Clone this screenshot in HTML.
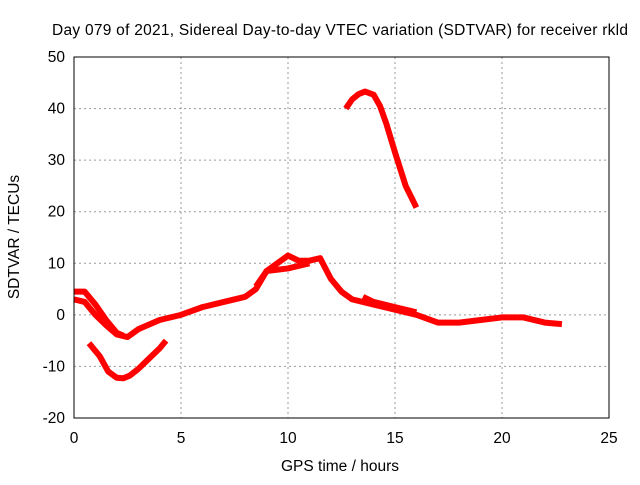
<!DOCTYPE html>
<html><head><meta charset="utf-8"><style>
body{margin:0;background:#fff}
svg text{font-family:"Liberation Sans",sans-serif;font-size:15.5px;fill:#000}
</style></head><body>
<svg id="c" width="640" height="480">
<rect width="640" height="480" fill="#fff"/>
<text x="340" y="35" text-anchor="middle" textLength="576">Day 079 of 2021, Sidereal Day-to-day VTEC variation (SDTVAR) for receiver rkld</text>
<text x="340" y="471" text-anchor="middle">GPS time / hours</text>
<text transform="translate(19,237) rotate(-90)" text-anchor="middle">SDTVAR / TECUs</text>
<g id="grid"></g><g id="series"></g>
<rect x="74" y="57" width="535" height="361" fill="none" stroke="#000"/>
</svg>
<script>
const xTicks=[0,5,10,15,20,25];
const yTicks=[-20,-10,0,10,20,30,40,50];
const mainX=[0,0.5,1,1.5,2,2.5,3,4,5,6,7,8,8.5,9,9.5,10,10.5,11,11.5,12,12.5,13,14,15,16,17,18,19,20,21,22,22.8];
const mainY=[3,2.5,0,-2,-3.8,-4.3,-2.8,-1,0,1.5,2.5,3.5,5,8.5,10,11.5,10.5,10.5,11,7,4.5,3,2,1,0,-1.5,-1.5,-1,-0.5,-0.5,-1.5,-1.8];
const upperX=[0,0.5,1,1.5,2,2.3];
const upperY=[4.5,4.5,2,-1,-3.5,-4];
const strand2X=[8.5,9,10,10.5,11];
const strand2Y=[5.5,8.5,9,9.5,10];
const strand3X=[13.5,14,15,16];
const strand3Y=[3.5,2.5,1.5,0.5];
const lowerX=[0.7,1.2,1.6,2,2.3,2.6,3,3.5,4,4.3];
const lowerY=[-5.5,-8,-11,-12.2,-12.3,-11.8,-10.5,-8.5,-6.5,-5];
const peakX=[12.7,13,13.3,13.6,14,14.3,14.6,15,15.5,16];
const peakY=[40,41.8,42.8,43.3,42.7,40.5,37,31.5,25,20.8];
const X=v=>74+v*535/25, Y=v=>418-(v+20)*361/70;
const NS="http://www.w3.org/2000/svg";
const g=document.getElementById('grid'), s=document.getElementById('series'), svg=document.getElementById('c');
xTicks.forEach(t=>{
 if(t>0&&t<25){const l=document.createElementNS(NS,'line');l.setAttribute('x1',X(t));l.setAttribute('x2',X(t));l.setAttribute('y1',57);l.setAttribute('y2',418);l.setAttribute('stroke','#999');l.setAttribute('stroke-dasharray','2,3');
 
 g.appendChild(l);}
 const tx=document.createElementNS(NS,'text');tx.setAttribute('x',X(t));tx.setAttribute('y',443);tx.setAttribute('text-anchor','middle');tx.textContent=t;
 
 svg.appendChild(tx);
});
yTicks.forEach(t=>{
 if(t>-20&&t<50){const l=document.createElementNS(NS,'line');l.setAttribute('x1',74);l.setAttribute('x2',609);l.setAttribute('y1',Y(t));l.setAttribute('y2',Y(t));l.setAttribute('stroke','#999');l.setAttribute('stroke-dasharray','2,3');
 
 g.appendChild(l);}
 const tx=document.createElementNS(NS,'text');tx.setAttribute('x',65);tx.setAttribute('y',Y(t)+5);tx.setAttribute('text-anchor','end');tx.textContent=t;
 
 svg.appendChild(tx);
});
function draw(xs,ys,name){
 const p=document.createElementNS(NS,'polyline');
 p.setAttribute('points',xs.map((x,i)=>X(x)+','+Y(ys[i])).join(' '));
 p.setAttribute('fill','none');p.setAttribute('stroke','#f00');p.setAttribute('stroke-width','6');p.setAttribute('stroke-linejoin','round');
 
 
 s.appendChild(p);
}
draw(mainX,mainY,'main-series');
draw(upperX,upperY,'upper-strand');
draw(strand2X,strand2Y,'peak-strand');
draw(strand3X,strand3Y,'decay-strand');
draw(lowerX,lowerY,'lower-series');
draw(peakX,peakY,'high-series');
</script>
</body></html>
